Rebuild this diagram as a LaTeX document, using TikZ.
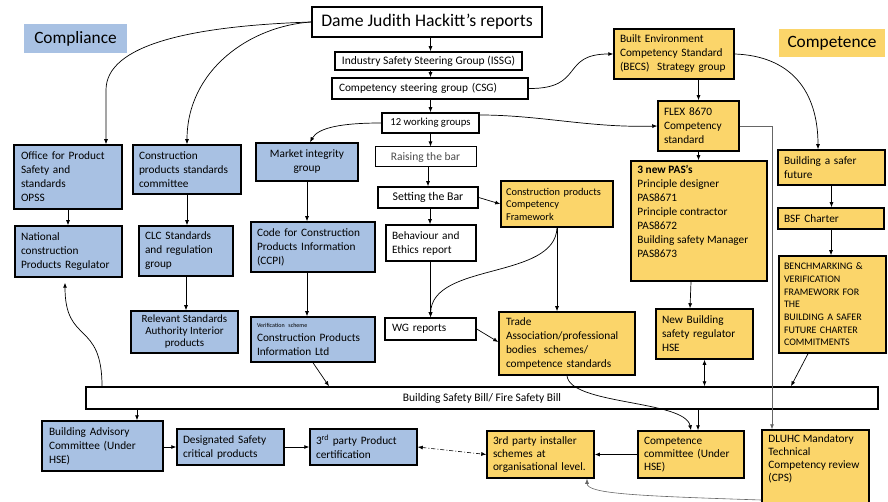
\documentclass[tikz,border=0pt]{standalone}
\usepackage{fontspec}
\setmainfont{Carlito}
\usetikzlibrary{arrows.meta}
\definecolor{cblue}{RGB}{168,193,227}
\definecolor{cyel}{RGB}{251,213,106}
\tikzset{
  base/.style={draw, line width=1.5pt, inner sep=0pt, align=left, font=\fontsize{11.3}{14}\selectfont},
  bluebox/.style={base, fill=cblue},
  ybox/.style={base, fill=cyel},
  wbox/.style={base, fill=white},
  arr/.style={-{Latex[length=5pt,width=4pt]}, line width=0.7pt},
  darr/.style={{Latex[length=5pt,width=4pt]}-{Latex[length=5pt,width=4pt]}, line width=0.7pt},
  garr/.style={-{Latex[length=5pt,width=4pt]}, line width=0.6pt, draw=black!60},
  txt/.style={anchor=north west, inner sep=0pt, align=left},
}
\begin{document}
\begin{tikzpicture}[x=1pt,y=-1pt]
\useasboundingbox (0,0) rectangle (888,502);

% headings
\node[fill=cblue, minimum width=103pt, minimum height=29pt, inner sep=0pt, font=\fontsize{17.3}{19}\selectfont] (compl) at (75.5,38.5) {Compliance};
\node[fill=cyel, minimum width=106pt, minimum height=28pt, inner sep=0pt, font=\fontsize{17.3}{19}\selectfont] (compet) at (832,43) {Competence};

% central column
\node[wbox, line width=1.7pt, minimum width=230pt, minimum height=30pt, align=center, font=\fontsize{17.7}{21}\selectfont] (dame) at (427,22) {Dame Judith Hackitt’s reports};
\node[wbox, minimum width=187pt, minimum height=18pt, align=center, font=\fontsize{11.5}{13}\selectfont] (issg) at (428.5,61) {Industry Safety Steering Group (ISSG)};
\node[wbox, minimum width=196pt, minimum height=21pt, text width=182pt, font=\fontsize{11.3}{13}\selectfont] (csg) at (430,88.5) {Competency steering group (CSG)};
\node[wbox, minimum width=97pt, minimum height=20pt, align=center, font=\fontsize{10.7}{12}\selectfont] (wg12) at (430.5,123) {12 working groups};
\node[wbox, line width=1pt, minimum width=101pt, minimum height=20pt, align=center, font=\fontsize{11.5}{13}\selectfont, text=black!70] (raise) at (425.5,157) {Raising the bar};
\node[wbox, minimum width=100pt, minimum height=21pt, align=center, font=\fontsize{11.8}{13}\selectfont] (setbar) at (428,197.5) {Setting the Bar};
\node[wbox, minimum width=90pt, minimum height=36pt, text width=78pt] (behav) at (431,243) {Behaviour and\\Ethics report};
\node[wbox, minimum width=91pt, minimum height=22pt, text width=77pt] (wgrep) at (430.5,329) {WG reports};

% blue column 3
\node[bluebox, minimum width=102pt, minimum height=38pt, align=center] (market) at (307,162) {Market integrity\\group};
\node[bluebox, minimum width=124pt, minimum height=50pt, text width=112pt] (ccpi) at (313,247) {Code for Construction\\Products Information\\(CCPI)};
\node[bluebox, minimum width=124pt, minimum height=45pt, text width=112pt] (cpil) at (313,339.5) {{\fontsize{6}{8}\selectfont Verification scheme}\\Construction Products\\Information Ltd};

% blue columns 1,2
\node[bluebox, minimum width=108pt, minimum height=64pt, text width=94pt] (opss) at (68,177) {Office for Product\\Safety and\\standards\\OPSS};
\node[bluebox, minimum width=108pt, minimum height=49pt, text width=96pt] (cpsc) at (187,169.5) {Construction\\products standards\\committee};
\node[bluebox, minimum width=107pt, minimum height=51pt, text width=95pt] (ncpr) at (68.5,251.5) {National\\construction\\Products Regulator};
\node[bluebox, minimum width=94pt, minimum height=50pt, text width=82pt] (clc) at (186,251) {CLC Standards\\and regulation\\group};
\node[bluebox, minimum width=107pt, minimum height=42pt, align=center, font=\fontsize{11}{12}\selectfont] (rsa) at (184.5,332) {Relevant Standards\\Authority Interior\\products};

% bill
\node[wbox, minimum width=792pt, minimum height=22pt, align=center, font=\fontsize{11.5}{13}\selectfont] (bill) at (482,398) {Building Safety Bill/ Fire Safety Bill};

% bottom row
\node[bluebox, minimum width=121pt, minimum height=50pt, text width=107pt] (bac) at (102.5,446) {Building Advisory\\Committee (Under\\HSE)};
\node[bluebox, minimum width=107pt, minimum height=36pt, text width=95pt] (dscp) at (230.5,447) {Designated Safety\\critical products};
\node[bluebox, minimum width=107pt, minimum height=36pt, text width=95pt] (tppc) at (363.5,447) {3\textsuperscript{rd} party Product\\certification};
\node[ybox, minimum width=107pt, minimum height=47pt, text width=95pt, font=\fontsize{11.3}{13}\selectfont] (tpis) at (540.5,454.5) {3rd party installer\\schemes at\\organisational level.};
\node[ybox, minimum width=106pt, minimum height=47pt, text width=94pt, font=\fontsize{11.3}{13}\selectfont] (ccom) at (691,454.5) {Competence\\committee (Under\\HSE)};
\node[ybox, minimum width=107pt, minimum height=76pt] (dluhc) at (815.5,468) {};
\node[txt, font=\fontsize{11.3}{13}\selectfont] (dluhctxt) at ([shift={(7pt,-5pt)}]dluhc.north west) {DLUHC Mandatory\\Technical\\Competency review\\(CPS)};

% yellow right part
\node[ybox, minimum width=120pt, minimum height=50pt, text width=108pt] (becs) at (674,54) {Built Environment\\Competency Standard\\(BECS)\ \ Strategy group};
\node[ybox, minimum width=81pt, minimum height=50pt, text width=69pt] (flex) at (698.5,126) {FLEX 8670\\Competency\\standard};
\node[ybox, minimum width=136pt, minimum height=120pt] (pas) at (699,221) {};
\node[txt, font=\fontsize{11.3}{14}\selectfont] (pastxt) at ([shift={(7pt,-5pt)}]pas.north west) {\textbf{3 new PAS’s}\\Principle designer\\PAS8671\\Principle contractor\\PAS8672\\Building safety Manager\\PAS8673};
\node[ybox, minimum width=97pt, minimum height=50pt, text width=85pt] (nbsr) at (704.5,334) {New Building\\safety regulator\\HSE};
\node[ybox, minimum width=107pt, minimum height=35pt, text width=95pt] (bsf) at (831.5,167.5) {Building a safer\\future};
\node[ybox, minimum width=106pt, minimum height=21pt, text width=94pt] (bsfc) at (831,218.5) {BSF Charter};
\node[ybox, minimum width=107pt, minimum height=97pt, text width=97pt, font=\fontsize{10}{12.7}\selectfont] (bench) at (832.5,304.5) {BENCHMARKING \&\\VERIFICATION\\FRAMEWORK FOR\\THE\\BUILDING A SAFER\\FUTURE CHARTER\\COMMITMENTS};
\node[ybox, minimum width=112pt, minimum height=46pt, text width=102pt, font=\fontsize{10.4}{12.5}\selectfont] (cpcf) at (557,204) {Construction products\\Competency\\Framework};
\node[ybox, minimum width=136pt, minimum height=63pt, text width=122pt] (trade) at (567,343.5) {Trade\\Association/professional\\bodies\ \ schemes/\\competence standards};

% ---- connectors: central spine
\draw[arr] (dame.south -| wg12.north) -- (issg.north -| wg12.north);
\draw[arr] (issg.south -| wg12.north) -- (csg.north -| wg12.north);
\draw[arr] (csg.south -| wg12.north) -- (wg12.north);
\draw[arr] (wg12.south) -- (wg12.south |- raise.north);
\draw[arr] (setbar.north |- raise.south) -- (setbar.north);
\draw[arr] ([xshift=2pt]setbar.south) -- ([xshift=2pt]setbar.south |- behav.north);
\draw[arr] (wgrep.north |- behav.south) -- (wgrep.north);
\draw[arr] (setbar.east) -- (cpcf.west);
\draw[arr] (wgrep.east) -- ([yshift=1.5pt]trade.west);
\draw[arr] (cpcf.south) .. controls (555,280) and (432,262) .. (wgrep.north);
\draw[arr] (cpcf.south) -- (cpcf.south |- trade.north);

% Dame to left
\draw[arr] (dame.west) .. controls (190,26) and (106,45) .. (106,90) -- ([xshift=38pt]opss.north);
\draw[arr] (dame.west) .. controls (250,26) and (187,70) .. (cpsc.north);

% left columns
\draw[arr] (opss.south) -- (opss.south |- ncpr.north);
\draw[arr] (cpsc.south) -- (cpsc.south |- clc.north);
\draw[arr] (clc.south) -- (clc.south |- rsa.north);

% market column
\draw[arr] (wg12.west) .. controls (340,123) and (318,128) .. ([xshift=3pt]market.north);
\draw[arr] (market.south) -- (market.south |- ccpi.north);
\draw[arr] (market.south |- ccpi.south) -- (market.south |- cpil.north);
\draw[arr] (cpil.south) -- ([xshift=16pt]cpil.south |- bill.north);

% right part
\draw[arr] (csg.east) .. controls (585,89) and (560,54) .. (becs.west);
\draw[arr] ([yshift=8pt]wg12.east) .. controls (540,115) and (590,128) .. (flex.west);
\draw[arr] (flex.north |- becs.south) -- (flex.north);
\draw[arr] (flex.south) -- (flex.south |- pas.north);
\draw[arr] (becs.east) .. controls (790,56) and (818,90) .. ([xshift=-13.5pt]bsf.north);
\draw[garr] (flex.east) -| ([xshift=-43.5pt]dluhc.north);
\draw[arr] (bsf.south) -- (bsf.south |- bsfc.north);
\draw[arr] (bsfc.south) -- (bsfc.south |- bench.north);
\draw[arr] ([xshift=-24.5pt]bench.south) -- ([xshift=-41.5pt]bench.south |- bill.north);
\draw[arr] ([xshift=-8pt]pas.south) -- ([xshift=-14.5pt]nbsr.north);
\draw[darr] (nbsr.south) -- (nbsr.south |- bill.north);

% bill to bottom
\draw[arr] ([xshift=7pt]ccom.north |- bill.south) -- ([xshift=7pt]ccom.north);
\draw[arr] (trade.south) .. controls (570,405) and (685,400) .. (ccom.north);
\draw[arr] ([xshift=34.5pt]bac.north |- bill.south) -- ([xshift=34.5pt]bac.north);
\draw[arr] ([xshift=-380pt]bill.north) .. controls (102,320) and (65,345) .. ([xshift=-3.5pt,yshift=-5pt]ncpr.south);
\draw[arr] (bac.east |- dscp.west) -- (dscp.west);
\draw[arr] (dscp.east) -- (tppc.west);
\draw[arr] (ccom.west) -- (tpis.east);
\draw[darr, line width=0.6pt, dash pattern=on 4pt off 2pt on 1pt off 2pt] (tppc.east) -- (tpis.west);
\draw[garr] ([yshift=-32pt]dluhc.west) .. controls (640,496) and (587,494) .. ([xshift=46.5pt]tpis.south);
\end{tikzpicture}
\end{document}
